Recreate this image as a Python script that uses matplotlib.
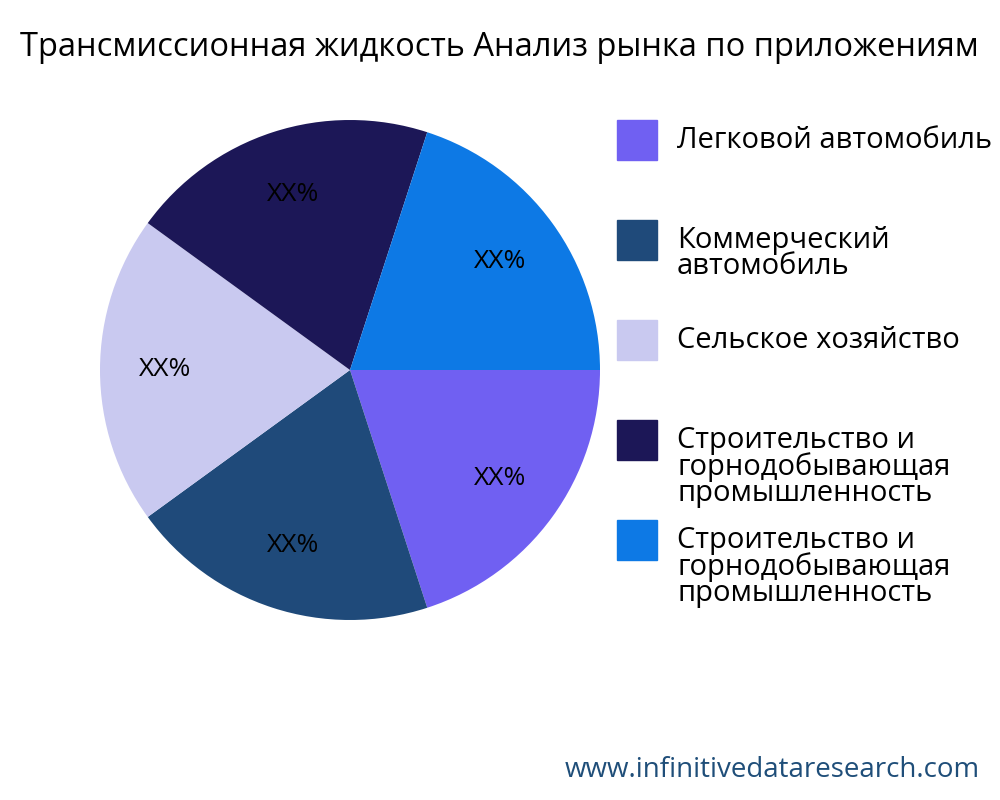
import matplotlib.pyplot as plt
from matplotlib.patches import Rectangle

plt.rcParams['font.family'] = ['Open Sans', 'DejaVu Sans']

title = "Трансмиссионная жидкость Анализ рынка по приложениям"
categories = ["Легковой автомобиль", "Коммерческий\nавтомобиль", "Сельское хозяйство",
              "Строительство и\nгорнодобывающая\nпромышленность",
              "Строительство и\nгорнодобывающая\nпромышленность"]
values = [20, 20, 20, 20, 20]
labels = ["XX%"] * 5
colors = ["#7060f2", "#1f4a7a", "#c9c9f0", "#1c1757", "#0d79e5"]
legend_y = [140, 240, 340, 440, 540]  # px from top

fig = plt.figure(figsize=(10, 8), dpi=100)
ax = fig.add_axes([0.1, 0.225, 0.5, 0.625])
wedges, texts = ax.pie(values, colors=colors, startangle=0, counterclock=False,
                       labels=labels, labeldistance=0.74,
                       textprops=dict(fontsize=19, ha='center', va='center'))
ax.set_aspect('equal')
ax.set_xlim(-1, 1)
ax.set_ylim(-1, 1)

fig.text(0.02, 0.94, title, fontsize=23.5, va='center', ha='left')

for cat, col, y in zip(categories, colors, legend_y):
    yf = 1 - y / 800
    fig.patches.append(Rectangle((0.617, yf - 0.025), 0.04, 0.05, color=col,
                                 transform=fig.transFigure))
    nlines = cat.count("\n") + 1
    fig.text(0.677, yf + 0.017 if nlines > 1 else yf, cat, fontsize=21,
             va='top' if nlines > 1 else 'center', ha='left', linespacing=0.85)

fig.text(0.98, 0.037, "www.infinitivedataresearch.com", fontsize=20,
         color="#1f4e79", ha='right', va='center')

fig.savefig("out.png")
